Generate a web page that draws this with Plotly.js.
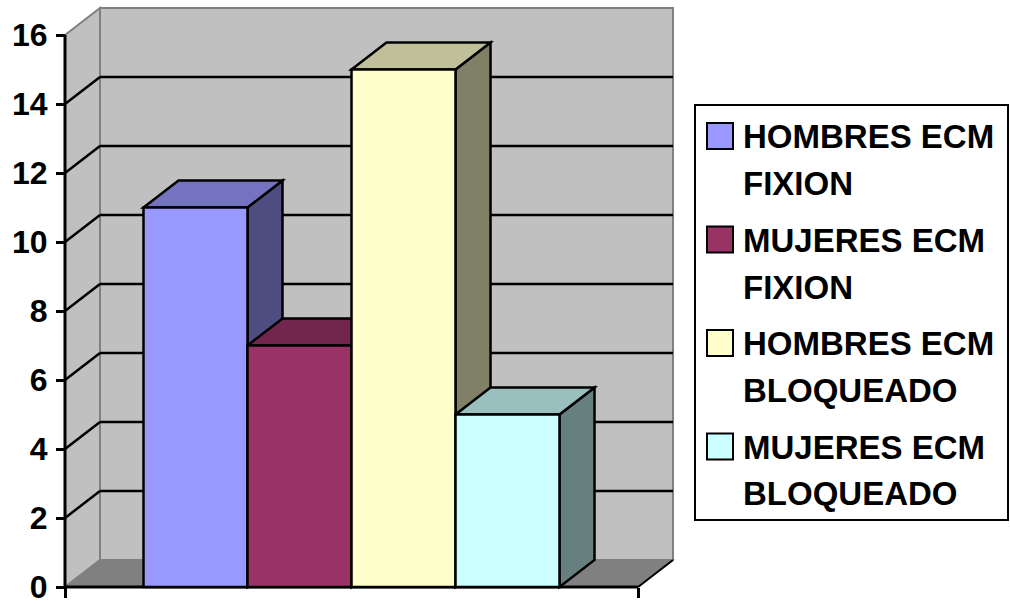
<!DOCTYPE html>
<html>
<head>
<meta charset="utf-8">
<script src="https://cdn.plot.ly/plotly-3.0.1.min.js"></script>
<style>
  html, body { margin: 0; padding: 0; background: #ffffff; }
  #chart { width: 1010px; height: 604px; }
</style>
</head>
<body>
<div id="chart"></div>
<script>
// Series shown as four adjacent 3-D columns
const seriesNames = ['HOMBRES ECM FIXION', 'MUJERES ECM FIXION', 'HOMBRES ECM BLOQUEADO', 'MUJERES ECM BLOQUEADO'];
const seriesValues = [11, 7, 15, 5];
const yTicks = [0, 2, 4, 6, 8, 10, 12, 14, 16];

// Face colours: front, top (shaded), right side (darker)
const frontColors = ['#9999FF', '#993366', '#FFFFCC', '#CCFFFF'];
const topColors   = ['#7373BF', '#73264D', '#BFBF99', '#99BFBF'];
const sideColors  = ['#4D4D80', '#4D1A33', '#808066', '#668080'];

// ---- geometry (pixels) ----
const W = 1010, H = 604;
const plotL = 55, plotR = 683, plotT = 2, plotB = 597;      // plotting area
const originX = 65, originY = 587, frontRightX = 638;      // front face of the box
const pxPerUnit = 34.5;                                    // vertical scale
const depthPX = 35, depthPY = 27;                          // oblique depth offset

const slotPx = frontRightX - originX;          // one category slot = 1 x-unit
const DX = depthPX / slotPx;                   // depth offset in data units
const DY = depthPY / pxPerUnit;
const yTop = yTicks[yTicks.length - 1];
const barW = 104 / slotPx;
const groupStart = (1 - seriesValues.length * barW) / 2;

const xRange = [-(originX - plotL) / slotPx, (plotR - originX) / slotPx];
const yRange = [-(plotB - originY) / pxPerUnit, (originY - plotT) / pxPerUnit];

const shapes = [];
const poly = (pts) => 'M' + pts.map(p => p[0] + ',' + p[1]).join('L') + 'Z';
function face(pts, fill, lineColor, lineWidth) {
  shapes.push({type: 'path', xref: 'x', yref: 'y', layer: 'below', path: poly(pts),
               fillcolor: fill, line: {color: lineColor, width: lineWidth}});
}
function seg(x0, y0, x1, y1, color, width) {
  shapes.push({type: 'line', xref: 'x', yref: 'y', layer: 'below', x0, y0, x1, y1,
               line: {color, width}});
}

// walls and floor
face([[0, 0], [0, yTop], [DX, yTop + DY], [DX, DY]], '#C0C0C0', '#808080', 2);
face([[DX, DY], [DX, yTop + DY], [1 + DX, yTop + DY], [1 + DX, DY]], '#C0C0C0', '#808080', 2);
face([[0, 0], [1, 0], [1 + DX, DY], [DX, DY]], '#808080', '#808080', 1.5);
seg(1, 0, 1 + DX, DY, '#000000', 2);

// gridlines on the side wall and back wall
yTicks.filter(v => v > 0 && v < yTop).forEach(v => {
  seg(0, v, DX, v + DY, '#000000', 2.5);
  seg(DX, v + DY, 1 + DX, v + DY, '#000000', 2.5);
});

// value axis and category base line
seg(0, 0, 0, yTop, '#000000', 3);
seg(0, 0, 1, 0, '#000000', 3);

// side and top faces of each column, painted left to right
seriesValues.forEach((v, i) => {
  const x0 = groupStart + i * barW, x1 = x0 + barW;
  face([[x1, 0], [x1, v], [x1 + DX, v + DY], [x1 + DX, DY]], sideColors[i], '#000000', 2.5);
  face([[x0, v], [x1, v], [x1 + DX, v + DY], [x0 + DX, v + DY]], topColors[i], '#000000', 2.5);
});

// front faces as bar traces
const traces = seriesValues.map((v, i) => ({
  type: 'bar',
  name: seriesNames[i],
  x: [0.5],
  y: [v],
  width: [barW],
  offset: [-0.5 + groupStart + i * barW],
  marker: {color: frontColors[i], line: {color: '#000000', width: 2.5}},
  showlegend: false,
  hoverinfo: 'skip'
}));

// ---- legend box ----
const px = x => (x - plotL) / (plotR - plotL);
const py = y => (plotB - y) / (plotB - plotT);
const annotations = [];
shapes.push({type: 'rect', xref: 'paper', yref: 'paper', layer: 'above',
             x0: px(695), x1: px(1008), y0: py(520), y1: py(105),
             fillcolor: 'rgba(0,0,0,0)', line: {color: '#000000', width: 2}});
const legendFont = {family: 'Liberation Sans, Arial, sans-serif', size: 33, color: '#000000'};
seriesNames.forEach((name, i) => {
  const capTop = 125 + i * 103.5;
  shapes.push({type: 'rect', xref: 'paper', yref: 'paper', layer: 'above',
               x0: px(707), x1: px(733), y0: py(capTop + 24), y1: py(capTop - 2),
               fillcolor: frontColors[i], line: {color: '#000000', width: 2}});
  const cut = name.lastIndexOf(' ');
  const lines = [name.slice(0, cut), name.slice(cut + 1)];
  lines.forEach((t, k) => {
    annotations.push({xref: 'paper', yref: 'paper', x: px(741), y: py(capTop + 11.5 + k * 47),
                      xanchor: 'left', yanchor: 'middle', showarrow: false,
                      text: '<b>' + t + '</b>', font: legendFont});
  });
});

const layout = {
  width: W, height: H,
  margin: {l: plotL, r: W - plotR, t: plotT, b: H - plotB, pad: 0},
  paper_bgcolor: '#ffffff',
  plot_bgcolor: 'rgba(0,0,0,0)',
  barmode: 'overlay',
  showlegend: false,
  xaxis: {
    range: xRange, anchor: 'free', position: (plotB - originY) / (plotB - plotT),
    tickvals: [0, 1], ticks: 'outside', ticklen: 10, tickwidth: 3, tickcolor: '#000000',
    showticklabels: false, showgrid: false, zeroline: false, showline: false,
    fixedrange: true, automargin: false
  },
  yaxis: {
    range: yRange, anchor: 'free', position: (originX - plotL) / (plotR - plotL),
    tickvals: yTicks, ticktext: yTicks.map(String),
    ticks: 'outside', ticklen: 9, tickwidth: 3, tickcolor: '#000000',
    ticklabelstandoff: 2, ticklabeloverflow: 'allow',
    tickfont: {family: 'Liberation Sans, Arial, sans-serif', size: 32, color: '#000000', weight: 'bold'},
    showgrid: false, zeroline: false, showline: false,
    fixedrange: true, automargin: false
  },
  shapes: shapes,
  annotations: annotations
};

Plotly.newPlot('chart', traces, layout, {staticPlot: true, displayModeBar: false});
</script>
</body>
</html>
